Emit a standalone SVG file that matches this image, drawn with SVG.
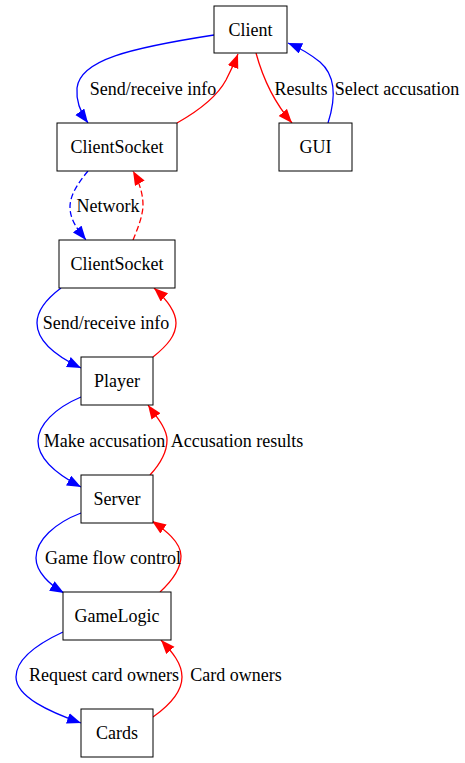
<svg xmlns="http://www.w3.org/2000/svg" width="465" height="763" viewBox="0 0 465 763">
<defs>
<marker id="ab" markerUnits="userSpaceOnUse" markerWidth="16" markerHeight="12" refX="14" refY="5.5" orient="auto" viewBox="0 0 16 12"><path d="M0,0 L14,5.5 L0,11 Z" fill="#0000ff"/></marker>
<marker id="ar" markerUnits="userSpaceOnUse" markerWidth="16" markerHeight="12" refX="14" refY="5.5" orient="auto" viewBox="0 0 16 12"><path d="M0,0 L14,5.5 L0,11 Z" fill="#ff0000"/></marker>
</defs>
<rect width="465" height="763" fill="#fff"/>
<g id="edges" fill="none" stroke-width="1.3">
<g stroke="#0000ff" marker-end="url(#ab)">
<path d="M214,35 C130,48 80,60 77,88 C76,100 80,112 88,123"/>
<path d="M328,123 C337,95 335,75 320,62 C310,54 300,48 288,43"/>
<path stroke-dasharray="6,3" d="M88,171 C78,183 70,195 70,207 C70,220 78,230 86,240"/>
<path d="M61,288 C45,300 37,312 37,323 C37,343 60,358 81,368"/>
<path d="M81,397 C55,408 38,425 38,441 C38,460 60,476 81,487"/>
<path d="M81,513 C55,523 36,540 36,558 C36,572 50,585 64,593"/>
<path d="M63,632 C35,645 16,660 16,677 C16,697 50,712 81,723"/>
</g>
<g stroke="#ff0000" marker-end="url(#ar)">
<path d="M177,123 C200,110 218,95 226,80 C231,70 235,62 238,54"/>
<path d="M256,53 C262,75 272,100 292,123"/>
<path stroke-dasharray="6,3" d="M133,240 C138,228 143,215 143,205 C143,192 138,180 133,171"/>
<path d="M153,357 C168,345 176,335 176,323 C176,310 165,298 154,288"/>
<path d="M150,475 C162,462 167,450 167,440 C167,428 155,415 148,405"/>
<path d="M160,592 C173,580 181,568 181,556 C181,542 165,530 152,521"/>
<path d="M153,717 C170,705 182,692 182,677 C182,662 170,650 161,640"/>
</g>
<g font-family="Liberation Serif" font-size="18" text-anchor="middle" fill="#000" stroke="none">
<text x="153" y="95">Send/receive info</text>
<text x="301" y="95">Results</text>
<text x="397" y="95">Select accusation</text>
<text x="108" y="212">Network</text>
<text x="106" y="329">Send/receive info</text>
<text x="104.5" y="447">Make accusation</text>
<text x="237" y="447">Accusation results</text>
<text x="113" y="564">Game flow control</text>
<text x="104" y="681">Request card owners</text>
<text x="236" y="681">Card owners</text>
</g>
</g>
<g font-family="Liberation Serif" font-size="18" text-anchor="middle">
<g id="client"><rect x="214" y="6" width="73" height="47" fill="#fff" stroke="#000"/><text x="250.5" y="36">Client</text></g>
<g id="clientsocket1"><rect x="57" y="123" width="120" height="48" fill="#fff" stroke="#000"/><text x="117" y="153">ClientSocket</text></g>
<g id="gui"><rect x="279" y="123" width="73" height="48" fill="#fff" stroke="#000"/><text x="315.5" y="153">GUI</text></g>
<g id="clientsocket2"><rect x="59" y="240" width="116" height="48" fill="#fff" stroke="#000"/><text x="117" y="270">ClientSocket</text></g>
<g id="player"><rect x="81" y="357" width="72" height="48" fill="#fff" stroke="#000"/><text x="117" y="387">Player</text></g>
<g id="server"><rect x="81" y="475" width="72" height="48" fill="#fff" stroke="#000"/><text x="117" y="505">Server</text></g>
<g id="gamelogic"><rect x="63" y="592" width="108" height="48" fill="#fff" stroke="#000"/><text x="117" y="622">GameLogic</text></g>
<g id="cards"><rect x="81" y="709" width="72" height="48" fill="#fff" stroke="#000"/><text x="117" y="739">Cards</text></g>
</g>
</svg>
